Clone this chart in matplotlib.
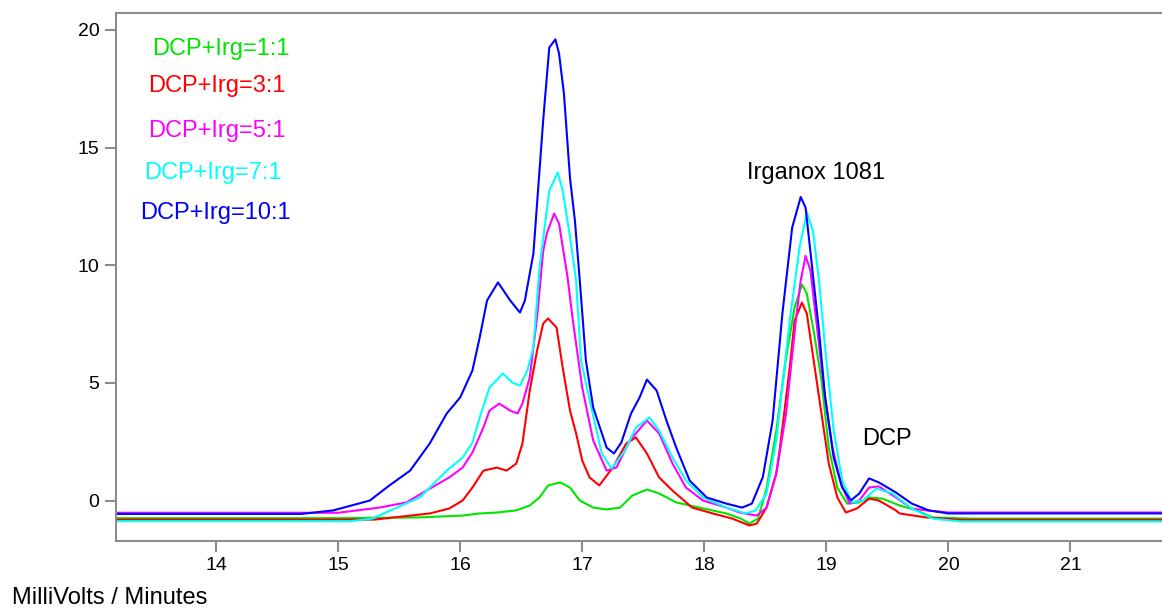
import matplotlib
matplotlib.use("Agg")
import numpy as np
from matplotlib import pyplot as plt

plt.rcParams['font.family'] = ['Liberation Sans', 'DejaVu Sans']

# retention time (minutes) / signal (mV)
green_t = [13.18, 15.0, 15.64, 16.02, 16.16, 16.3, 16.46, 16.57, 16.65, 16.72, 16.82, 16.9,
           16.98, 17.09, 17.2, 17.31, 17.41, 17.53, 17.63, 17.77, 17.96, 18.18, 18.3, 18.37,
           18.44, 18.51, 18.59, 18.67, 18.74, 18.8, 18.84, 18.9, 18.96, 19.02, 19.09, 19.17,
           19.27, 19.35, 19.46, 19.6, 19.74, 19.87, 20.2, 21.75]
green_mv = [-0.75, -0.75, -0.72, -0.64, -0.55, -0.51, -0.42, -0.21, 0.13, 0.64, 0.77, 0.55,
            0.0, -0.3, -0.38, -0.3, 0.21, 0.47, 0.3, -0.08, -0.3, -0.55, -0.77, -0.98,
            -0.77, 0.5, 2.97, 6.08, 8.2, 9.18, 8.8, 7.1, 5.1, 2.25, 0.55, -0.13,
            -0.08, 0.13, 0.08, -0.21, -0.42, -0.72, -0.77, -0.77]

red_t = [13.18, 15.3, 15.75, 15.91, 16.02, 16.1, 16.19, 16.3, 16.38, 16.46, 16.51, 16.57,
         16.63, 16.68, 16.72, 16.79, 16.84, 16.9, 16.95, 17.0, 17.06, 17.14, 17.25, 17.36,
         17.44, 17.53, 17.63, 17.74, 17.9, 18.07, 18.23, 18.37, 18.43, 18.51, 18.59, 18.62,
         18.7, 18.74, 18.8, 18.84, 18.9, 18.96, 19.02, 19.09, 19.16, 19.25, 19.35, 19.43,
         19.57, 19.6, 19.82, 20.1, 21.75]
red_mv = [-0.81, -0.81, -0.55, -0.34, 0.0, 0.55, 1.27, 1.4, 1.27, 1.57, 2.42, 4.67,
          6.37, 7.52, 7.74, 7.35, 5.65, 3.82, 2.85, 1.7, 0.98, 0.64, 1.4, 2.42,
          2.68, 2.0, 0.98, 0.42, -0.3, -0.55, -0.77, -1.06, -0.98, -0.3, 1.15, 2.25,
          5.65, 7.65, 8.41, 7.95, 5.82, 3.7, 1.57, 0.13, -0.51, -0.34, 0.08, 0.0,
          -0.42, -0.55, -0.72, -0.82, -0.82]

magenta_t = [13.18, 15.0, 15.34, 15.56, 15.75, 15.91, 16.02, 16.1, 16.19, 16.24, 16.32, 16.41,
             16.47, 16.51, 16.57, 16.63, 16.68, 16.71, 16.77, 16.81, 16.88, 16.92, 17.0, 17.09,
             17.2, 17.28, 17.39, 17.53, 17.63, 17.74, 17.85, 17.99, 18.18, 18.29, 18.43, 18.51,
             18.59, 18.67, 18.75, 18.79, 18.83, 18.87, 18.92, 18.98, 19.05, 19.12, 19.19, 19.27,
             19.35, 19.43, 19.57, 19.7, 19.82, 20.0, 21.75]
magenta_mv = [-0.52, -0.52, -0.3, -0.08, 0.5, 0.98, 1.4, 2.04, 3.1, 3.82, 4.12, 3.82,
              3.7, 4.12, 5.23, 7.78, 10.6, 11.35, 12.2, 11.77, 9.48, 7.78, 4.8, 2.55,
              1.27, 1.4, 2.55, 3.4, 2.85, 1.57, 0.55, 0.0, -0.3, -0.51, -0.64, -0.3,
              1.15, 3.7, 7.65, 9.35, 10.4, 9.77, 7.52, 4.8, 2.25, 0.72, -0.13, 0.0,
              0.55, 0.6, 0.13, -0.34, -0.42, -0.51, -0.51]

cyan_t = [13.18, 15.1, 15.28, 15.48, 15.67, 15.89, 16.02, 16.1, 16.16, 16.24, 16.35, 16.43,
          16.49, 16.55, 16.6, 16.65, 16.73, 16.8, 16.84, 16.9, 16.95, 16.99, 17.08, 17.16,
          17.24, 17.35, 17.44, 17.55, 17.63, 17.74, 17.85, 17.99, 18.18, 18.34, 18.42, 18.51,
          18.59, 18.62, 18.7, 18.78, 18.84, 18.89, 18.94, 18.99, 19.06, 19.13, 19.21, 19.3,
          19.41, 19.54, 19.7, 19.87, 20.1, 21.75]
cyan_mv = [-0.88, -0.88, -0.77, -0.3, 0.13, 1.27, 1.83, 2.46, 3.53, 4.8, 5.4, 5.0,
           4.89, 5.52, 6.5, 9.9, 13.17, 13.94, 13.17, 11.2, 9.35, 5.95, 3.82, 2.0,
           1.36, 2.12, 3.1, 3.53, 2.97, 1.83, 0.85, 0.13, -0.3, -0.55, -0.42, 0.3,
           2.55, 3.95, 7.65, 10.75, 12.24, 11.47, 9.35, 6.5, 2.97, 0.85, -0.08, 0.0,
           0.51, 0.3, -0.34, -0.77, -0.89, -0.89]

blue_t = [13.18, 14.7, 14.96, 15.26, 15.42, 15.59, 15.75, 15.89, 16.0, 16.1, 16.16, 16.22,
          16.31, 16.41, 16.49, 16.53, 16.6, 16.68, 16.73, 16.78, 16.81, 16.85, 16.9, 16.94,
          16.98, 17.03, 17.09, 17.2, 17.26, 17.32, 17.4, 17.47, 17.53, 17.61, 17.69, 17.77,
          17.88, 18.02, 18.18, 18.31, 18.39, 18.48, 18.56, 18.64, 18.72, 18.79, 18.83, 18.88,
          18.94, 18.99, 19.06, 19.13, 19.2, 19.27, 19.35, 19.43, 19.57, 19.7, 19.84, 20.0,
          21.75]
blue_mv = [-0.57, -0.57, -0.42, 0.0, 0.64, 1.27, 2.42, 3.7, 4.38, 5.52, 6.93, 8.5,
           9.27, 8.5, 7.99, 8.5, 10.5, 16.15, 19.25, 19.6, 19.0, 17.3, 13.7, 11.9,
           9.35, 5.95, 3.95, 2.25, 2.0, 2.46, 3.7, 4.38, 5.14, 4.67, 3.4, 2.25,
           0.85, 0.13, -0.13, -0.3, -0.13, 1.0, 3.4, 7.95, 11.6, 12.9, 12.45, 10.07,
           7.22, 4.38, 1.83, 0.55, 0.0, 0.3, 0.94, 0.77, 0.34, -0.13, -0.42, -0.55,
           -0.55]

series = [
    (green_t, green_mv, '#00e600', 'DCP+Irg=1:1', 13.48, 19.2),
    (red_t, red_mv, '#ff0000', 'DCP+Irg=3:1', 13.44, 17.6),
    (magenta_t, magenta_mv, '#ff00ff', 'DCP+Irg=5:1', 13.44, 15.7),
    (cyan_t, cyan_mv, '#00ffff', 'DCP+Irg=7:1', 13.41, 13.9),
    (blue_t, blue_mv, '#0000ff', 'DCP+Irg=10:1', 13.38, 12.2),
]

fig = plt.figure(figsize=(11.62, 6.10), dpi=100)
ax = fig.add_axes([0.0998, 0.1139, 0.9002, 0.864])

for t, mv, color, label, lx, ly in series:
    ax.plot(t, mv, color=color, linewidth=1.5)
    ax.text(lx, ly, label, color=color, fontsize=17, va='center', ha='left')

ax.text(18.35, 13.94, 'Irganox 1081', fontsize=17, va='center', ha='left')
ax.text(19.29, 2.63, 'DCP', fontsize=17, va='center', ha='left')

ax.set_xlim(13.18, 21.75)
ax.set_ylim(-1.7, 20.7)
ax.set_xticks([14, 15, 16, 17, 18, 19, 20, 21])
ax.set_yticks([0, 5, 10, 15, 20])
ax.spines['right'].set_visible(False)
for side in ['left', 'bottom', 'top']:
    ax.spines[side].set_color('#8c8c8c')
    ax.spines[side].set_linewidth(1.5)
ax.tick_params(direction='out', length=8, width=1.5, color='#8c8c8c',
               labelsize=14, labelcolor='black', pad=4)

fig.text(12/1162, 0.02, 'MilliVolts / Minutes', fontsize=17, va='center', ha='left')

fig.savefig('out.png', dpi=100)
